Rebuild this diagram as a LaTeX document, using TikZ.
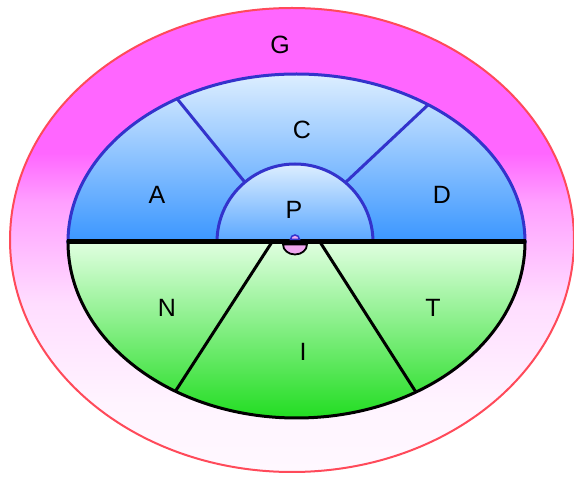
\documentclass[tikz,border=0pt]{standalone}
\usepackage{fontspec}
\setmainfont{Liberation Sans}
\usetikzlibrary{calc}
\definecolor{outerline}{HTML}{FF4A5A}
\definecolor{magtop}{HTML}{FF66FF}
\definecolor{magA}{HTML}{FFA0FF}
\definecolor{magB}{HTML}{FFB8FF}
\definecolor{magC}{HTML}{FFDDFF}
\definecolor{magD}{HTML}{FFF4FF}
\definecolor{magbot}{HTML}{FFF8FF}
\definecolor{bluetop}{HTML}{DDEEFF}
\definecolor{bluebot}{HTML}{3A96FF}
\definecolor{blueline}{HTML}{3333CC}
\definecolor{greentop}{HTML}{E0FFE0}
\definecolor{greenbot}{HTML}{22DD22}
\definecolor{bumppink}{HTML}{F0A8F0}
% ring shading: path box spans 25bp (bottom) to 75bp (top)
\pgfdeclareverticalshading{ringshade}{100bp}{%
  color(0bp)=(magbot); color(25bp)=(magbot); color(32.4bp)=(magD);
  color(43.2bp)=(magC); color(49.7bp)=(magB); color(54bp)=(magA);
  color(59.4bp)=(magtop); color(100bp)=(magtop)}
\tikzset{
  sectorlabel/.style={font=\fontsize{25}{28}\selectfont, text=black, inner sep=0pt},
  blueedge/.style={draw=blueline, line width=3pt},
  blackedge/.style={draw=black, line width=3pt},
}
\begin{document}
\begin{tikzpicture}[x=1pt,y=1pt]
\useasboundingbox (0,0) rectangle (574,477);

% centres
\coordinate (oc) at (292,237);
\coordinate (ic) at (296.5,235);
\coordinate (pc) at (295,235);

% outer ring G
\shade[shading=ringshade, draw=outerline, line width=2pt]
  (oc) ellipse [x radius=282, y radius=232];

% upper half of the inner ellipse
\shade[top color=bluetop, bottom color=bluebot, blueedge]
  (68,235) arc[start angle=180, end angle=0, x radius=228.5, y radius=168] -- cycle;

% dividers A|C and C|D
\path (ic) ++(121.5:228.5 and 168) coordinate (acout);
\path (pc) ++(130:78) coordinate (acin);
\path (ic) ++(54.8:228.5 and 168) coordinate (cdout);
\path (pc) ++(49.7:78) coordinate (cdin);
\draw[blueedge] (acout) -- (acin);
\draw[blueedge] (cdout) -- (cdin);

% core half disc P
\shade[top color=bluetop, bottom color=bluebot!85!white, blueedge]
  (217,235) arc[start angle=180, end angle=0, radius=78] -- cycle;

% lower half of the inner ellipse
\shade[top color=greentop, bottom color=greenbot, blackedge]
  (68,235) arc[start angle=180, end angle=360, x radius=228.5, y radius=176] -- cycle;

% dividers N|I and I|T
\coordinate (nitop) at (272,235);
\coordinate (ittop) at (320,235);
\path (ic) ++(238:228.5 and 176) coordinate (nibot);
\path (ic) ++(301.5:228.5 and 176) coordinate (itbot);
\draw[blackedge] (nitop) -- (nibot);
\draw[blackedge] (ittop) -- (itbot);

% dividing line
\coordinate (lineL) at (67,235);
\coordinate (lineR) at (526,235);
\draw[black, line width=5pt] (lineL) -- (lineR);

% small centre marks
\filldraw[fill=bumppink, draw=black, line width=1.8pt]
  (283,232.5) arc[start angle=180, end angle=360, x radius=12, y radius=10] -- cycle;
\filldraw[fill=bumppink, draw=blueline, line width=1.5pt]
  (290.5,237.5) arc[start angle=180, end angle=0, radius=4.5] -- cycle;

% labels
\node[sectorlabel] (g) at (280,432) {G};
\node[sectorlabel] (c) at (302,347) {C};
\node[sectorlabel] (a) at (157,282) {A};
\node[sectorlabel] (d) at (442,282) {D};
\node[sectorlabel] (p) at (294,267) {P};
\node[sectorlabel] (n) at (167,169) {N};
\node[sectorlabel] (t) at (433,169) {T};
\node[sectorlabel] (i) at (303,125) {I};
\end{tikzpicture}
\end{document}
